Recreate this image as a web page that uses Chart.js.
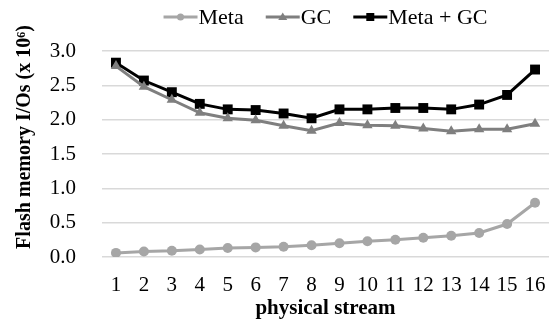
<!DOCTYPE html>
<html>
<head>
<meta charset="utf-8">
<script src="https://cdn.jsdelivr.net/npm/chart.js@4"></script>
<style>
html, body { margin: 0; padding: 0; background: #fff; }
#wrap { width: 556px; height: 327px; }
</style>
</head>
<body>
<div id="wrap"><canvas id="streamChart"></canvas></div>
<script>
// 데이터
var streams = ['1','2','3','4','5','6','7','8','9','10','11','12','13','14','15','16'];
var metaIO = [0.06, 0.08, 0.09, 0.11, 0.13, 0.14, 0.15, 0.17, 0.20, 0.23, 0.25, 0.28, 0.31, 0.35, 0.48, 0.79];
var gcIO = [2.78, 2.48, 2.29, 2.10, 2.02, 1.99, 1.91, 1.84, 1.95, 1.92, 1.91, 1.87, 1.83, 1.86, 1.86, 1.94];
var totalIO = [2.83, 2.57, 2.40, 2.23, 2.15, 2.14, 2.09, 2.02, 2.15, 2.15, 2.17, 2.17, 2.15, 2.22, 2.36, 2.73];
var seriesNames = ['Meta', 'GC', 'Meta + GC'];
var yTicks = [0, 0.5, 1.0, 1.5, 2.0, 2.5, 3.0];
var yTitle = 'Flash memory I/Os (x 10⁶)';
var xTitle = 'physical stream';

var colors = ['#a6a6a6', '#7f7f7f', '#000000'];
var styles = ['circle', 'triangle', 'rect'];
var radii = [5, 6, 7];
var FONT = 'Liberation Serif';

//범례 마커 하나 그리기
function drawMarker(g, style, x, y){
	g.beginPath();
	if(style == 'circle'){
		g.arc(x, y, 3.5, 0, Math.PI*2);
	}else if(style == 'triangle'){
		g.moveTo(x, y-4.5); g.lineTo(x+4.5, y+3); g.lineTo(x-4.5, y+3); g.closePath();
	}else{
		g.rect(x-4, y-4, 8, 8);
	}
	g.fill();
}

//범례 + y축 제목 직접 그리기
var legendPlugin = {
	id: 'customLegend',
	afterDraw: function(chart){
		var g = chart.ctx;
		var area = chart.chartArea;
		g.save();
		g.font = '22px "' + FONT + '"';
		g.textBaseline = 'middle';
		g.textAlign = 'left';
		var iconW = 34, gap = 1, space = 22;
		var total = 0;
		var widths = seriesNames.map(function(n){ return g.measureText(n).width; });
		widths.forEach(function(w, i){ total += iconW + gap + w + (i < widths.length-1 ? space : 0); });
		var x = (area.left + area.right)/2 - total/2;
		var y = 17;
		seriesNames.forEach(function(name, i){
			g.strokeStyle = colors[i];
			g.fillStyle = colors[i];
			g.lineWidth = 3;
			g.beginPath(); g.moveTo(x, y); g.lineTo(x+iconW, y); g.stroke();
			drawMarker(g, styles[i], x+iconW/2, y);
			g.fillStyle = '#000';
			g.fillText(name, x+iconW+gap, y+1);
			x += iconW + gap + widths[i] + space;
		});
		//y축 제목
		g.translate(25, 137);
		g.rotate(-Math.PI/2);
		g.textAlign = 'center';
		g.font = 'bold 20px "' + FONT + '"';
		g.fillText(yTitle, 0, 0);
		g.restore();
	}
};

function makeSet(i, values){
	return {
		label: seriesNames[i],
		data: values,
		borderColor: colors[i],
		backgroundColor: colors[i],
		borderWidth: 3,
		pointStyle: styles[i],
		pointRadius: radii[i],
		pointBorderWidth: 0,
		tension: 0
	};
}

var ctx = document.getElementById('streamChart');
var chart = new Chart(ctx, {
	type: 'line',
	data: {
		labels: streams,
		datasets: [makeSet(0, metaIO), makeSet(1, gcIO), makeSet(2, totalIO)]
	},
	plugins: [legendPlugin],
	options: {
		responsive: true,
		maintainAspectRatio: false,
		animation: false,
		layout: { padding: { left: 0, right: 5, top: 51, bottom: 0 } },
		plugins: {
			tooltip: { enabled: false },
			legend: { display: false }
		},
		scales: {
			x: {
				offset: true,
				grid: { display: false },
				border: { display: false },
				ticks: { color: '#000', padding: 8, font: { family: FONT, size: 21 }, maxRotation: 0, autoSkip: false },
				title: { display: true, text: xTitle, color: '#000', font: { family: FONT, size: 21, weight: 'bold' }, padding: { top: 0, bottom: 6 } },
				afterFit: function(axis){ axis.height = 70; }
			},
			y: {
				min: 0,
				max: 3,
				afterBuildTicks: function(axis){
					axis.ticks = yTicks.map(function(v){ return { value: v }; });
				},
				grid: { color: '#d9d9d9', lineWidth: 1.5, drawTicks: false },
				border: { display: false },
				ticks: {
					color: '#000',
					padding: 26,
					font: { family: FONT, size: 21 },
					callback: function(v){ return v.toFixed(1); }
				},
				afterFit: function(axis){ axis.width = 102; }
			}
		}
	}
});
</script>
</body>
</html>
